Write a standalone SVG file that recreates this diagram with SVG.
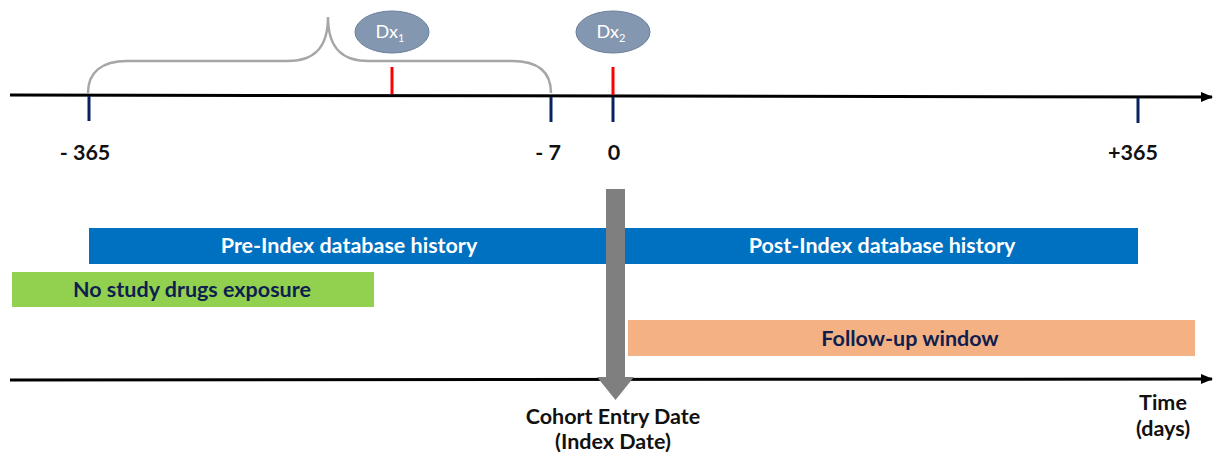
<svg xmlns="http://www.w3.org/2000/svg" width="1214" height="459" viewBox="0 0 1214 459">
<defs>
<marker id="arr" viewBox="0 0 12 10" refX="11" refY="5" markerWidth="12" markerHeight="10" markerUnits="userSpaceOnUse" orient="auto">
<path d="M0,0 L12,5 L0,10 Z" fill="#000"/>
</marker>
<style>
.t{font-family:Lato,"Open Sans",sans-serif;font-weight:bold;font-size:21.5px;text-anchor:middle}
.wt{fill:#ffffff}
.nv{fill:#0e1f4f}
.bk{fill:#111}
.axis{stroke:#000;stroke-width:3;fill:none}
.tick{stroke:#0a2260;stroke-width:3}
.red{stroke:#ff0000;stroke-width:3}
.dx{fill:#8497b0;stroke:#6a7f9c;stroke-width:1}
.dxt{font-family:Lato,"Open Sans",sans-serif;font-size:18px;fill:#fff;text-anchor:middle}
</style>
</defs>
<g id="connectors">
<line class="axis" x1="10" y1="95" x2="1212" y2="97" marker-end="url(#arr)"/>
<line class="axis" x1="10" y1="380" x2="1212" y2="379" marker-end="url(#arr)"/>
<path id="brace" d="M88,93 C88,72 102,61 127,61 L288,61 C312,61 328,50 328,17 C328,50 344,61 368,61 L512,61 C538,61 551,72 551,93" fill="none" stroke="#a6a6a6" stroke-width="2.5"/>
<line class="tick" x1="89" y1="96" x2="89" y2="121"/>
<line class="tick" x1="551" y1="97" x2="551" y2="122"/>
<line class="tick" x1="613" y1="97" x2="613" y2="122"/>
<line class="tick" x1="1138" y1="98" x2="1138" y2="123"/>
<line class="red" x1="392" y1="67" x2="392" y2="94"/>
<line class="red" x1="613" y1="67" x2="613" y2="95"/>
</g>
<g id="dx1">
<ellipse class="dx" cx="392" cy="32" rx="37" ry="21"/>
<text class="dxt" x="390" y="38">Dx<tspan font-size="11" dy="4">1</tspan></text>
</g>
<g id="dx2">
<ellipse class="dx" cx="613" cy="32" rx="37" ry="21"/>
<text class="dxt" x="611" y="38">Dx<tspan font-size="11" dy="4">2</tspan></text>
</g>
<g id="labels">
<text class="t bk" x="85" y="160">- 365</text>
<text class="t bk" x="548" y="160">- 7</text>
<text class="t bk" x="614" y="160">0</text>
<text class="t bk" x="1133" y="160">+365</text>
</g>
<g id="pre-post">
<rect x="89" y="228" width="1049" height="36" fill="#0070c0"/>
<text class="t wt" x="349" y="253">Pre-Index database history</text>
<text class="t wt" x="882" y="253">Post-Index database history</text>
</g>
<g id="no-drugs">
<rect x="12" y="272" width="362" height="35" fill="#92d050"/>
<text class="t nv" x="192" y="297">No study drugs exposure</text>
</g>
<g id="follow-up">
<rect x="628" y="320" width="567" height="36" fill="#f4b183"/>
<text class="t nv" x="910" y="346">Follow-up window</text>
</g>
<g id="index-arrow">
<path d="M606,189 L625,189 L625,377 L634,377 L615.5,400 L597,377 L606,377 Z" fill="#7f7f7f"/>
</g>
<g id="cohort">
<text class="t bk" x="613" y="424">Cohort Entry Date</text>
<text class="t bk" x="613" y="449">(Index Date)</text>
</g>
<g id="time">
<text class="t bk" x="1163" y="410">Time</text>
<text class="t bk" x="1163" y="436">(days)</text>
</g>
</svg>
